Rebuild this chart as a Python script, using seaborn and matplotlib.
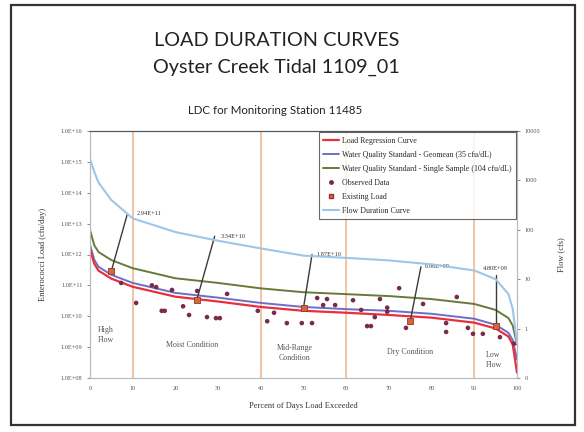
import numpy as np
import pandas as pd
import matplotlib
matplotlib.use('Agg')
import matplotlib.pyplot as plt
import matplotlib.ticker as mticker
from matplotlib.lines import Line2D
from matplotlib.patches import Rectangle
import seaborn as sns

# curve data (percent of days exceeded)
pct = [0, 1, 2, 5, 10, 20, 30, 40, 50, 60, 70, 80, 90, 95, 98, 99, 100]
flow_cfs = [2700, 1500, 900, 400, 170, 90, 60, 42, 30, 27, 24, 20, 15, 10, 5, 2.5, 0.5]
single_sample = [6.2e12, 2.0e12, 1.2e12, 6.6e11, 3.6e11, 1.7e11, 1.2e11, 8.0e10, 6.0e10,
                 5.2e10, 4.5e10, 3.6e10, 2.5e10, 1.6e10, 8.7e9, 5.0e9, 1.2e9]
geomean = [2.1e12, 6.7e11, 4.0e11, 2.2e11, 1.2e11, 5.7e10, 4.0e10, 2.7e10, 2.0e10,
           1.7e10, 1.5e10, 1.2e10, 8.3e9, 5.3e9, 2.9e9, 1.7e9, 4.0e8]
regression = [1.5e12, 5.0e11, 3.0e11, 1.65e11, 9.0e10, 4.3e10, 3.0e10, 2.0e10, 1.5e10,
              1.3e10, 1.1e10, 9.0e9, 6.2e9, 4.0e9, 2.2e9, 1.2e9, 1.5e8]

# observed data
obs_pct = [7.3, 10.8, 14.5, 15.5, 16.8, 17.5, 19.2, 21.8, 23.2, 25.1, 27.4, 29.5, 30.4, 32.1,
           39.3, 41.5, 43.1, 46.1, 49.6, 52.0, 53.2, 55.5, 54.6, 57.4, 61.6, 63.5, 67.9,
           69.6, 69.6, 66.7, 64.9, 65.8, 72.4, 78.0, 74.0, 83.4, 83.4, 85.9, 88.5, 89.7,
           92.0, 96.0, 99.3]
obs_load = [1.2e11, 2.7e10, 1.0e11, 8.8e10, 1.5e10, 1.5e10, 7.1e10, 2.1e10, 1.1e10, 6.6e10,
            9.4e9, 8.7e9, 8.7e9, 5.3e10, 1.5e10, 6.9e9, 1.3e10, 6.0e9, 6.0e9, 6.0e9, 3.9e10,
            3.6e10, 2.3e10, 2.3e10, 3.3e10, 1.6e10, 3.6e10, 1.9e10, 1.4e10, 9.4e9, 4.8e9,
            4.8e9, 8.1e10, 2.5e10, 4.2e9, 6.0e9, 3.1e9, 4.2e10, 4.2e9, 2.7e9, 2.7e9, 2.1e9,
            1.3e9]

# existing load
exist_pct = [5, 25, 50, 75, 95]
exist_load = [2.94e11, 3.34e10, 1.87e10, 6.96e9, 4.80e9]
exist_labels = ['2.94E+11', '3.34E+10', '1.87E+10', '6.96E+09', '4.80E+09']

zone_bounds = [10, 40, 60, 90]

curves = pd.DataFrame({'pct': pct, 'flow': flow_cfs, 'ss': single_sample,
                       'gm': geomean, 'reg': regression})

sns.set_style('white')
plt.rcParams['font.family'] = ['Liberation Serif', 'DejaVu Sans']

fig = plt.figure(figsize=(5.84, 4.32), dpi=100)
fig.patches.append(Rectangle((11 / 584, 1 - 425 / 432), 564 / 584, 420 / 432,
                             transform=fig.transFigure, fill=False, ec='#333333', lw=1.6))

fig.text(0.473, 1 - 41 / 432, 'LOAD DURATION CURVES', ha='center', va='center',
         fontsize=14.3, family='Lato', color='#222222')
fig.text(0.473, 1 - 67 / 432, 'Oyster Creek Tidal 1109_01', ha='center', va='center',
         fontsize=14.3, family='Lato', color='#222222')
fig.text(0.471, 1 - 110 / 432, 'LDC for Monitoring Station 11485', ha='center', va='center',
         fontsize=8.3, family='Lato', color='#222222')

ax = fig.add_axes([90 / 584, 1 - 378 / 432, 427 / 584, 247 / 432])
ax2 = ax.twinx()

for b in zone_bounds:
    ax.axvline(b, color='#efb993', lw=1.2, zorder=1)

sns.lineplot(data=curves, x='pct', y='ss', ax=ax, color='#667a3a', lw=1.4, zorder=3)
sns.lineplot(data=curves, x='pct', y='gm', ax=ax, color='#6c6fc4', lw=1.4, zorder=3)
sns.lineplot(data=curves, x='pct', y='reg', ax=ax, color='#e8303c', lw=1.6, zorder=3)
sns.scatterplot(x=obs_pct, y=obs_load, ax=ax, color='#7a2a4a', s=11, marker='o',
                edgecolor='none', zorder=4)
sns.scatterplot(x=exist_pct, y=exist_load, ax=ax, color='#d06a3a', s=20, marker='s',
                edgecolor='#a03030', lw=0.6, zorder=5)

ax.set_yscale('log')
ax.set_ylim(1e8, 1e16)
ax.set_xlim(0, 100)
ax.set_xticks(range(0, 101, 10))
ax.yaxis.set_major_locator(mticker.LogLocator(base=10, numticks=20))
ax.yaxis.set_minor_locator(mticker.NullLocator())
ax.yaxis.set_major_formatter(mticker.FuncFormatter(lambda v, p: '%.1E' % v))
ax.set_xlabel('Percent of Days Load Exceeded', fontsize=6, color='#333333', labelpad=8)
ax.set_ylabel('Enterococci Load (cfu/day)', fontsize=6, color='#333333', labelpad=10)
ax.tick_params(labelsize=4.5, colors='#555555', length=2, width=0.5)

# annotations of existing load
label_pos = [(11.0, 10 ** 13.34), (30.5, 10 ** 12.59), (53.0, 10 ** 12.0), (78.5, 10 ** 11.6),
             (95.0, 10 ** 11.55)]
line_end = [(8.7, 10 ** 13.29), (29.2, 10 ** 12.59), (52.0, 10 ** 12.0), (77.5, 10 ** 11.6),
            (95.0, 10 ** 11.35)]
for i in range(len(exist_pct)):
    ax.plot([exist_pct[i], line_end[i][0]], [exist_load[i], line_end[i][1]],
            color='#3a3a3a', lw=1.0, zorder=4)
    ha = 'center' if i == 4 else 'left'
    ax.text(label_pos[i][0], label_pos[i][1], exist_labels[i], fontsize=4.6,
            ha=ha, va='center', color='#333333')

zone_text = ['High\nFlow', 'Moist Condition', 'Mid-Range\nCondition', 'Dry Condition', 'Low\nFlow']
zone_x = [1.9, 24, 48, 75, 94.5]
zone_y = [10 ** 9.39, 10 ** 9.07, 10 ** 8.81, 10 ** 8.84, 10 ** 8.58]
for t, zx, zy in zip(zone_text, zone_x, zone_y):
    ax.text(zx, zy, t, fontsize=5.7, color='#555555', va='center',
            ha='left' if t.startswith('High') else 'center')

sns.lineplot(data=curves, x='pct', y='flow', ax=ax2, color='#9dc6e8', lw=1.5, zorder=2)
ax2.set_yscale('log')
ax2.set_ylim(0.1, 10000)
ax2.yaxis.set_minor_locator(mticker.NullLocator())
ax2.yaxis.set_major_formatter(mticker.FuncFormatter(lambda v, p: '%d' % v))
ax2.set_ylabel('Flow (cfs)', fontsize=6, color='#333333', labelpad=12)
ax2.tick_params(labelsize=4.5, colors='#555555', length=2, width=0.5)

for a in (ax, ax2):
    for s in a.spines.values():
        s.set_color('#bbbbbb')
        s.set_linewidth(0.8)
    a.spines['top'].set_color('#555555')

handles = [Line2D([], [], color='#e8303c', lw=1.6),
           Line2D([], [], color='#6c6fc4', lw=1.4),
           Line2D([], [], color='#667a3a', lw=1.4),
           Line2D([], [], color='#7a2a4a', marker='o', ms=2.5, lw=0),
           Line2D([], [], color='#d06a3a', marker='s', ms=3.5, mec='#a03030', lw=0),
           Line2D([], [], color='#9dc6e8', lw=1.5)]
labels = ['Load Regression Curve',
          'Water Quality Standard - Geomean (35 cfu/dL)',
          'Water Quality Standard - Single Sample (104 cfu/dL)',
          'Observed Data', 'Existing Load', 'Flow Duration Curve']
leg = ax2.legend(handles, labels, loc='upper right', fontsize=5.7, frameon=True,
                 fancybox=False, edgecolor='#444444', borderaxespad=0.15,
                 handlelength=2.0, handletextpad=0.3, labelspacing=0.75, borderpad=0.6)
leg.get_frame().set_linewidth(0.8)

fig.savefig('out.png', dpi=100)
